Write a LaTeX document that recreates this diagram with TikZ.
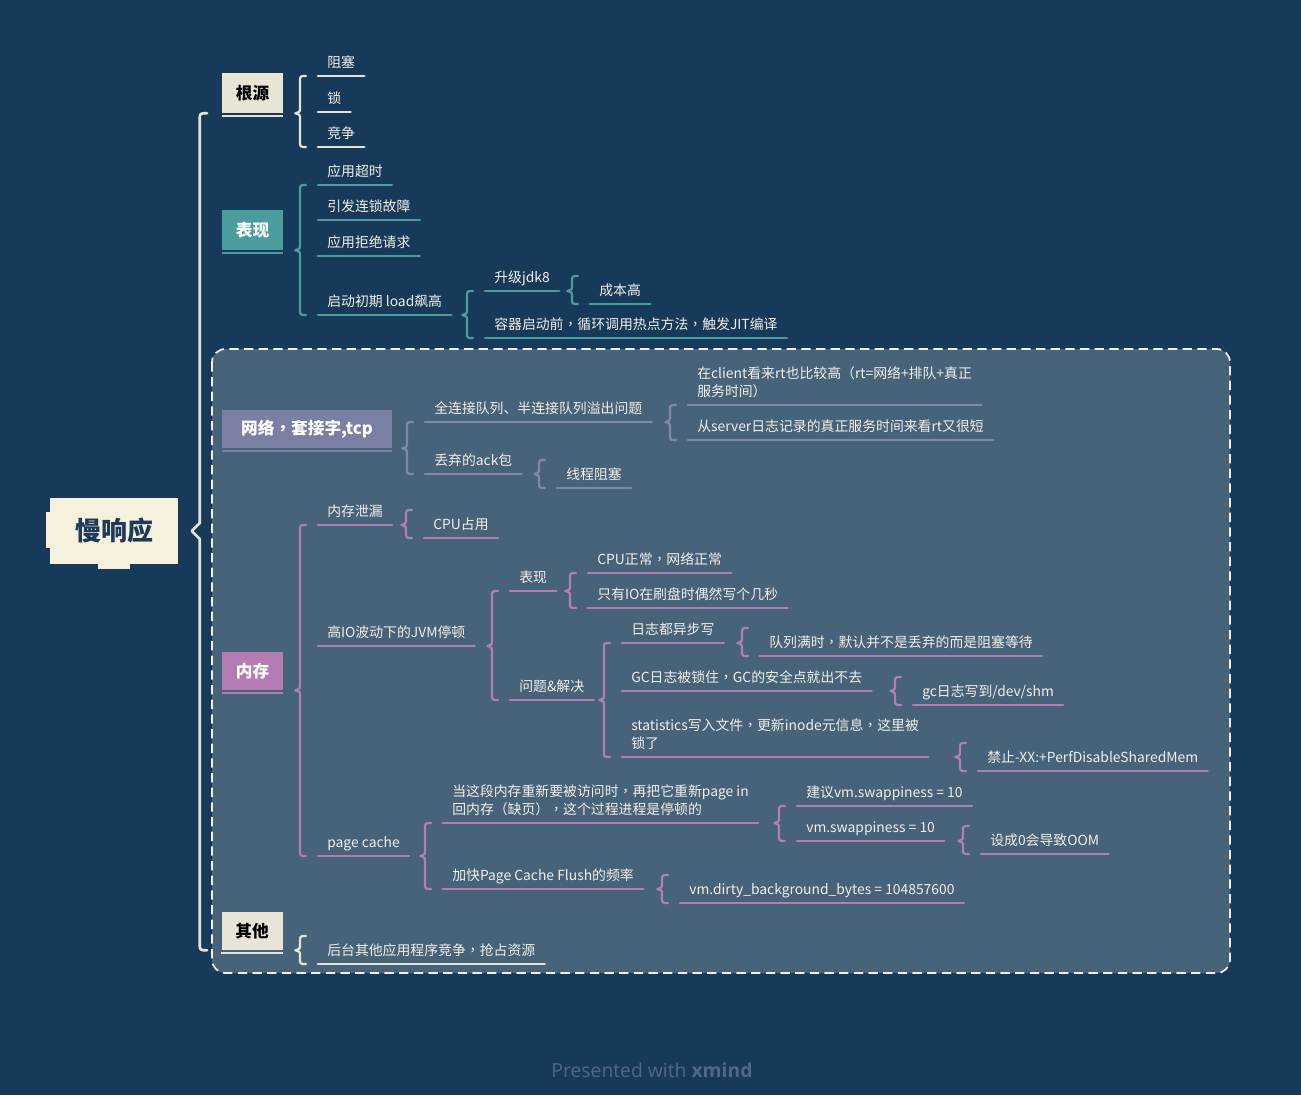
\documentclass[tikz,border=0pt]{standalone}
\usepackage{fontspec}
\setmainfont{Noto Sans CJK SC}
\newfontfamily\tcfont{Noto Sans CJK TC}
\newfontfamily\pfont{Open Sans}
\newcommand\zc{{\tcfont ，}}
\usetikzlibrary{calc}
\definecolor{bg}{HTML}{183A5A}
\definecolor{region}{HTML}{46637A}
\definecolor{txt}{HTML}{F1EFE8}
\definecolor{cA}{HTML}{E6E3D3}
\definecolor{cAbox}{HTML}{E8E5D6}
\definecolor{cT}{HTML}{4B9C9C}
\definecolor{cN}{HTML}{8288A8}
\definecolor{cNbox}{HTML}{7A80A4}
\definecolor{cM}{HTML}{B27FB3}
\definecolor{cMbox}{HTML}{B47CB2}
\definecolor{cream}{HTML}{F6F1DC}
\definecolor{rootTxt}{HTML}{1D3A5A}
\definecolor{credit}{HTML}{4F6888}
\newcommand\brcmany[4]{%
 \draw[brc,draw=#1] let \p1=(#2.south east),\p2=(#3.south west),\p3=(#4.south west) in
 (\x2-9pt,\y2) .. controls (\x2-13.5pt,\y2) .. (\x2-13.5pt,\y2-4.5pt) -- (\x2-13.5pt,\y1+4.5pt)
 .. controls (\x2-13.5pt,\y1+1pt) .. (\x2-17pt,\y1) .. controls (\x2-13.5pt,\y1-1pt) .. (\x2-13.5pt,\y1-4.5pt)
 -- (\x2-13.5pt,\y3+4.5pt) .. controls (\x2-13.5pt,\y3) .. (\x2-9pt,\y3);}
\newcommand\brcone[3]{%
 \draw[brc,draw=#1] let \p1=(#2.south east),\p2=(#3.south west) in
 (\x2-9pt,\y2+21pt) .. controls (\x2-13.5pt,\y2+21pt) .. (\x2-13.5pt,\y2+16.5pt) -- (\x2-13.5pt,\y1+4.5pt)
 .. controls (\x2-13.5pt,\y1+1pt) .. (\x2-17pt,\y1) .. controls (\x2-13.5pt,\y1-1pt) .. (\x2-13.5pt,\y1-4.5pt)
 -- (\x2-13.5pt,\y2+4.5pt) .. controls (\x2-13.5pt,\y2) .. (\x2-9pt,\y2);}
\begin{document}
\begin{tikzpicture}[x=0.75pt,y=-0.75pt,
 brc/.style={line width=1.7pt,line cap=round,line join=round},
 leaf/.style={anchor=south west,inner xsep=6.75pt,inner ysep=4pt,text depth=2.5pt,
   text=txt,font=\fontsize{10.4}{13.5}\selectfont,align=left,
   append after command={(\tikzlastnode.south west) edge[draw=#1,line width=2.2pt,line cap=round] (\tikzlastnode.south east)}},
 lvl/.style n args={2}{fill=#1,text=#2,font=\bfseries\fontsize{12.5}{14}\selectfont,
   minimum width=45.75pt,minimum height=30pt,inner sep=0pt,
   append after command={([yshift=-1.8pt]\tikzlastnode.south west) edge[draw=#1,line width=1.4pt] ([yshift=-1.8pt]\tikzlastnode.south east)}}]
\useasboundingbox (0,0) rectangle (1301,1095);
\fill[bg] (0,0) rectangle (1301,1095);
\draw[draw=txt,line width=1.3pt,dash pattern=on 7pt off 4pt,fill=region,rounded corners=10pt] (212,349) rectangle (1230,973);

% root
\fill[cream] (98,556) rectangle (130,569);
\fill[cream] (46,512) rectangle (60,548);
\node[fill=cream,text=rootTxt,font=\bfseries\fontsize{19.5}{22}\selectfont,minimum width=96pt,minimum height=50pt,inner sep=0pt] (root) at (114,531) {慢响应};

% level 1
\node[lvl={cAbox}{black}] (gy) at (252.5,93) {根源};
\node[lvl={cT}{white}] (bx) at (252.5,230) {表现};
\node[lvl={cNbox}{white},minimum width=127.5pt,minimum height=28.5pt] (wl) at (307,429) {网络\zc 套接字,tcp};
\node[lvl={cMbox}{white},minimum height=28.5pt] (nc) at (252.5,671) {内存};
\node[lvl={cAbox}{black},minimum height=28.5pt] (qt) at (252,931) {其他};

\draw[brc,line width=2pt,draw=cA] let \p1=(root.east),\p2=(gy.south west),\p3=(qt.south west) in
 (\x2-11pt,\y2) .. controls (\x2-16.5pt,\y2) .. (\x2-16.5pt,\y2-5.5pt) -- (\x2-16.5pt,\y1+6pt)
 -- (\x2-22.5pt,\y1) -- (\x2-16.5pt,\y1-6pt)
 -- (\x2-16.5pt,\y3+5.5pt) .. controls (\x2-16.5pt,\y3) .. (\x2-11pt,\y3);

% 根源
\node[leaf=cA] (a1) at (318,76) {阻塞};
\node[leaf=cA] (a2) at (318,112) {锁};
\node[leaf=cA] (a3) at (318,147) {竞争};
\brcmany{cA}{gy}{a1}{a3}

% 表现
\node[leaf=cT] (b1) at (318,185) {应用超时};
\node[leaf=cT] (b2) at (318,220) {引发连锁故障};
\node[leaf=cT] (b3) at (318,256) {应用拒绝请求};
\node[leaf=cT] (b4) at (318,315) {启动初期 load飙高};
\brcmany{cT}{bx}{b1}{b4}
\node[leaf=cT] (b41) at (485,291) {升级jdk8};
\node[leaf=cT] (b42) at (485,338) {容器启动前\zc 循环调用热点方法\zc 触发JIT编译};
\brcmany{cT}{b4}{b41}{b42}
\node[leaf=cT] (b411) at (590,304) {成本高};
\brcone{cT}{b41}{b411}

% 网络
\node[leaf=cN] (c1) at (425,422) {全连接队列、半连接队列溢出问题};
\node[leaf=cN] (c2) at (425,474) {丢弃的ack包};
\brcmany{cN}{wl}{c1}{c2}
\node[leaf=cN] (c11) at (688,405) {在client看来rt也比较高（rt=网络+排队+真正\\服务时间）};
\node[leaf=cN] (c12) at (688,440) {从server日志记录的真正服务时间来看rt又很短};
\brcmany{cN}{c1}{c11}{c12}
\node[leaf=cN] (c21) at (557,488) {线程阻塞};
\brcone{cN}{c2}{c21}

% 内存
\node[leaf=cM] (d1) at (318,525) {内存泄漏};
\node[leaf=cM] (d2) at (318,646) {高IO波动下的JVM停顿};
\node[leaf=cM] (d3) at (318,856) {page cache};
\brcmany{cM}{nc}{d1}{d3}
\node[leaf=cM] (d11) at (424,538) {CPU占用};
\brcone{cM}{d1}{d11}
\node[leaf=cM] (d21) at (510,591) {表现};
\node[leaf=cM] (d22) at (510,700) {问题\&解决};
\brcmany{cM}{d2}{d21}{d22}
\node[leaf=cM] (d211) at (588,573) {CPU正常\zc 网络正常};
\node[leaf=cM] (d212) at (588,608) {只有IO在刷盘时偶然写个几秒};
\brcmany{cM}{d21}{d211}{d212}
\node[leaf=cM] (d221) at (622,643) {日志都异步写};
\node[leaf=cM] (d222) at (622,691) {GC日志被锁住\zc GC的安全点就出不去};
\node[leaf=cM] (d223) at (622,757) {statistics写入文件\zc 更新inode元信息\zc 这里被\\锁了};
\brcmany{cM}{d22}{d221}{d223}
\node[leaf=cM] (d2211) at (760,656) {队列满时\zc 默认并不是丢弃的而是阻塞等待};
\brcone{cM}{d221}{d2211}
\node[leaf=cM] (d2221) at (913,705) {gc日志写到/dev/shm};
\brcone{cM}{d222}{d2221}
\node[leaf=cM] (d2231) at (978,771) {禁止-XX:+PerfDisableSharedMem};
\brcone{cM}{d223}{d2231}
\node[leaf=cM] (d31) at (443,823) {当这段内存重新要被访问时\zc 再把它重新page in\\回内存（缺页）\zc 这个过程进程是停顿的};
\node[leaf=cM] (d32) at (443,889) {加快Page Cache Flush的频率};
\brcmany{cM}{d3}{d31}{d32}
\node[leaf=cM] (d311) at (797,806) {建议vm.swappiness = 10};
\node[leaf=cM] (d312) at (797,841) {vm.swappiness = 10};
\brcmany{cM}{d31}{d311}{d312}
\node[leaf=cM] (d3121) at (981,854) {设成0会导致OOM};
\brcone{cM}{d312}{d3121}
\node[leaf=cM] (d321) at (680,903) {vm.dirty\_background\_bytes = 104857600};
\brcone{cM}{d32}{d321}

% 其他
\node[leaf=cA] (e1) at (318,964) {后台其他应用程序竞争\zc 抢占资源};
\brcone{cA}{qt}{e1}

\node[text=credit,font=\pfont\fontsize{14.5}{16}\selectfont] (credit) at (652,1070) {Presented with \textbf{xmind}};
\end{tikzpicture}
\end{document}
